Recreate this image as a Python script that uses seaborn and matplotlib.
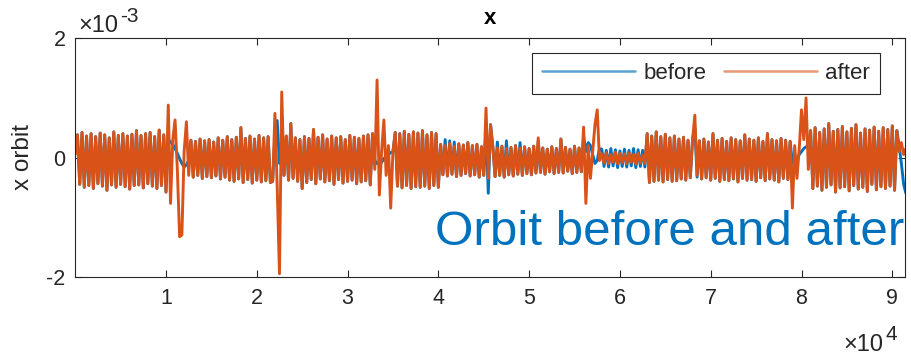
import numpy as np
import pandas as pd
import matplotlib
matplotlib.use("Agg")
import matplotlib.pyplot as plt
from matplotlib.lines import Line2D
import seaborn as sns

# ---------------- data (orbit in units of 1e-3, one sample every 250 along s) ----------------
s_step = 250

after_seg_a = [0.05, 0.38, -0.45, 0.42, -0.50, 0.36, -0.47, 0.40, -0.52, 0.35,
               -0.44, 0.41, -0.48, 0.38, -0.55, 0.33, -0.46, 0.43, -0.50, 0.37,
               -0.45, 0.40, -0.49, 0.36, -0.53, 0.39, -0.47, 0.45, -0.46, 0.37,
               -0.51, 0.40, -0.44, 0.42, -0.48, 0.35, -0.52, 0.46, -0.47, 0.38, -0.58]
after_spike_1 = [0.88, -0.77, 0.30, 0.63, -0.20, -1.33, -1.30, 0.10, 0.60, -0.30]
after_seg_b = [0.29, -0.33, 0.27, -0.30, 0.31, -0.35, 0.28, -0.32, 0.30, -0.34,
               0.26, -0.31, 0.33, -0.36, 0.29, -0.33, 0.35, -0.38, 0.30, -0.40,
               0.34, -0.36, 0.50, -0.42, 0.32, -0.37, 0.36, -0.43, 0.31, -0.38,
               0.37, -0.41, 0.33, -0.39, 0.35, -0.42]
after_spike_2 = [-0.40, 0.74, -0.50, -1.95, 1.10, -0.30]
after_seg_c = [0.36, -0.38, 0.57, -0.35, 0.33, -0.40, 0.30, -0.52, 0.35, -0.42,
               0.32, -0.37, 0.47, -0.44, 0.34, -0.36, 0.38, -0.41, 0.31, -0.39,
               0.36, -0.45, 0.33, -0.37, 0.35, -0.43, 0.30, -0.40, 0.37, -0.38,
               0.34, -0.44, 0.32, -0.41, 0.36, -0.39, 0.38, -0.46, 0.40]
after_spike_3 = [-0.20, 1.30, -0.63, 0.10, 0.63, -0.30, 0.20, -0.85, 0.10]
after_seg_d = [0.42, -0.48, 0.40, -0.51, 0.44, -0.47, 0.39, -0.52, 0.43, -0.49,
               0.41, -0.50, 0.45, -0.48, 0.38, -0.52, 0.42, -0.47, 0.40, -0.50]
after_seg_e = [0.22, -0.29, 0.20, -0.31, 0.24, -0.28, 0.19, -0.32, 0.23, -0.30,
               0.21, -0.27, 0.25, -0.31, 0.20, -0.29, 0.22, -0.33, 0.18, -0.30]
after_spike_4 = [0.83, -0.35, 0.55]
after_seg_f = [0.18, -0.32, 0.16, -0.30, 0.19, -0.33, 0.15, -0.29, 0.17, -0.31,
               0.20, -0.28, 0.16, -0.30, 0.18, -0.27, 0.15, -0.29, 0.19, -0.26,
               0.33, -0.25, 0.16, -0.28, 0.14, -0.24, 0.18, -0.27, 0.15, -0.25,
               0.31, -0.26, 0.17, -0.23, 0.14, -0.27, 0.19, -0.25, 0.16, -0.24]
after_spike_5 = [0.51, -0.77, 0.20, -0.35, 0.10, 0.55, 0.80, -0.05]
after_seg_g = [0.06, -0.09, 0.08, -0.10, 0.05, -0.08, 0.09, -0.11, 0.07, -0.09,
               0.06, -0.10, 0.08, -0.08, 0.05, -0.11, 0.07, -0.09, 0.04, -0.10]
after_seg_h = [0.40, -0.42, 0.36, -0.40, 0.43, -0.38, 0.35, -0.41, 0.39, -0.37,
               0.33, -0.40, 0.36, -0.39, 0.31, -0.36, 0.34, -0.38, 0.29, -0.34, 0.30]
after_spike_6 = [0.71, -0.30]
after_seg_i = [0.28, -0.36, 0.31, -0.34, 0.26, -0.38, 0.40, -0.35, 0.29, -0.40,
               0.32, -0.37, 0.27, -0.39, 0.33, -0.36, 0.30, -0.41, 0.28, -0.35,
               0.38, -0.38, 0.31, -0.37, 0.29, -0.40, 0.33, -0.34, 0.27, -0.39,
               0.40, -0.36, 0.30, -0.38, 0.28, -0.41, 0.32, -0.35, 0.29, -0.37, 0.27]
after_spike_7 = [-0.85, 0.20, -0.35, 0.15, 0.80, 0.30, 1.00, -0.20]
after_seg_j = [0.45, -0.52, 0.50, -0.48, 0.42, -0.55, 0.48, -0.50, 0.57, -0.46,
               0.44, -0.58, 0.47, -0.51, 0.52, -0.49, 0.43, -0.56, 0.49, -0.47,
               0.55, -0.53, 0.41, -0.50, 0.48, -0.57, 0.46, -0.45, 0.51, -0.54,
               0.44, -0.49, 0.50, -0.52, 0.47, -0.48, 0.53, -0.55, 0.45]
after_end = [0.10, 0.25, 0.05, 0.15]

# "before" equals "after" except at these samples (index: value)
before_changes = {
    0: 0.35,
    41: 0.30, 42: 0.26, 43: 0.22, 44: 0.15, 45: 0.07, 46: -0.02, 47: -0.10,
    48: -0.16, 49: -0.12, 50: -0.05,
    88: 0.40, 89: 0.62, 90: -0.10, 91: 0.20,
    132: -0.05, 133: -0.10, 134: -0.12, 135: -0.08, 136: -0.02, 137: 0.02,
    138: 0.05, 139: 0.08, 140: 0.10,
    163: 0.30, 165: 0.28, 167: 0.26,
    181: 0.50, 182: -0.60,
    186: 0.26, 190: 0.28, 196: 0.25, 204: 0.27,
    224: 0.35, 225: 0.10, 226: 0.25, 227: 0.20, 228: 0.05, 229: -0.10,
    230: -0.05, 231: 0.15,
    273: 0.50, 274: -0.33,
    316: -0.10, 317: -0.05, 318: -0.02, 319: 0.05, 320: 0.10, 321: 0.15,
    322: 0.18, 323: 0.20,
    363: 0.20, 364: -0.10, 365: -0.45, 366: -0.60,
}
before_flat_start = 232
before_flat = [0.14, -0.15, 0.12, -0.16, 0.15, -0.14, 0.13, -0.17, 0.11, -0.15,
               0.14, -0.16, 0.12, -0.14, 0.15, -0.17, 0.13, -0.15, 0.12, -0.16]

xtick_values = [10000, 20000, 30000, 40000, 50000, 60000, 70000, 80000, 90000]
xtick_labels = ["1", "2", "3", "4", "5", "6", "7", "8", "9"]
ytick_values = [-2, 0, 2]
ytick_labels = ["-2", "0", "2"]

after_values = (after_seg_a + after_spike_1 + after_seg_b + after_spike_2 + after_seg_c
                + after_spike_3 + after_seg_d + after_seg_e + after_spike_4 + after_seg_f
                + after_spike_5 + after_seg_g + after_seg_h + after_spike_6 + after_seg_i
                + after_spike_7 + after_seg_j + after_end)
before_values = list(after_values)
for k, v in before_changes.items():
    before_values[k] = v
for k, v in enumerate(before_flat):
    before_values[before_flat_start + k] = v

s_values = np.arange(len(after_values)) * s_step
df = pd.DataFrame({"s": s_values, "before": before_values, "after": after_values})

# ---------------- style ----------------
sns.set_theme(style="ticks")
plt.rcParams["font.family"] = ["Liberation Sans", "DejaVu Sans"]

BLUE = "#0072BD"
ORANGE = "#D95319"
DARK = "#262626"

fig = plt.figure(figsize=(9.12, 3.57), dpi=100)
ax = fig.add_axes([75.2 / 912, 1 - 276.7 / 357, (905 - 75.2) / 912, (276.7 - 38.3) / 357])

sns.lineplot(data=df, x="s", y="before", ax=ax, color=BLUE, lw=2.1,
             estimator=None, sort=False, legend=False)
sns.lineplot(data=df, x="s", y="after", ax=ax, color=ORANGE, lw=2.1,
             estimator=None, sort=False, legend=False)

ax.set_xlim(0, 91400)
ax.set_ylim(-2, 2)
ax.set_xticks(xtick_values)
ax.set_xticklabels(xtick_labels)
ax.set_yticks(ytick_values)
ax.set_yticklabels(ytick_labels)
ax.tick_params(direction="in", top=True, right=True, length=5, width=0.8,
               colors=DARK, labelsize=15.5)
ax.tick_params(axis="x", pad=8)
ax.tick_params(axis="y", pad=7)
for sp in ax.spines.values():
    sp.set_color(DARK)
    sp.set_linewidth(0.8)
    sp.set_visible(True)

ax.set_xlabel("")
ax.set_ylabel("x orbit", fontsize=17.5, color=DARK)
ax.yaxis.set_label_coords(-0.0496, 0.5)
ax.set_title("x", fontweight="bold", fontsize=16, color="black", pad=10)

# exponent labels
fig.text(78 / 912, 1 - 32 / 357, "×10", fontsize=17, color=DARK, ha="left", va="baseline")
fig.text(120 / 912, 1 - 22 / 357, "-3", fontsize=15, color=DARK, ha="left", va="baseline")
fig.text(843 / 912, 1 - 351 / 357, "×10", fontsize=17, color=DARK, ha="left", va="baseline")
fig.text(886 / 912, 1 - 340 / 357, "4", fontsize=15, color=DARK, ha="left", va="baseline")

# annotation
ax.text(39600, -1.47, "Orbit before and after", color=BLUE, fontsize=35.5,
        ha="left", va="baseline")

handles = [Line2D([], [], color=BLUE, lw=1.8, alpha=0.65),
           Line2D([], [], color=ORANGE, lw=1.8, alpha=0.6)]
leg = ax.legend(handles, ["before", "after"], loc="upper right",
                bbox_to_anchor=(880 / 912, 1 - 53 / 357),
                bbox_transform=fig.transFigure, ncol=2, fontsize=16,
                handlelength=4.2, handletextpad=0.36, columnspacing=0.8,
                frameon=True, fancybox=False, borderaxespad=0, borderpad=0.45)
leg.get_frame().set_edgecolor(DARK)
leg.get_frame().set_linewidth(0.8)
leg.get_frame().set_facecolor("white")
leg.get_frame().set_alpha(1)
for t in leg.get_texts():
    t.set_color(DARK)

fig.savefig("out.png", dpi=100)
